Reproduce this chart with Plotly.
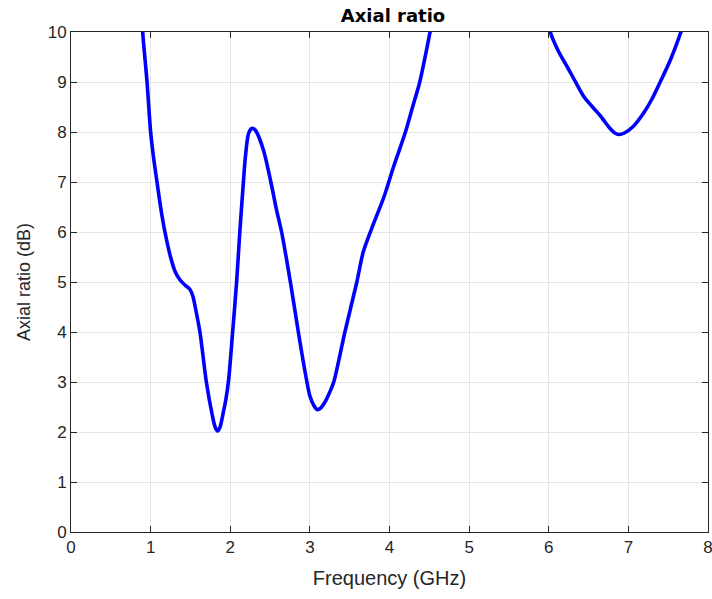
import plotly.graph_objects as go

# Axial ratio (dB) versus frequency (GHz); None splits the curve where it leaves the 0-10 dB window
freq_ghz = [
    0.87, 0.90, 0.955, 1.00, 1.04, 1.08, 1.13, 1.18, 1.25, 1.31, 1.37, 1.43, 1.49, 1.53, 1.56,
    1.62, 1.70, 1.77, 1.81, 1.84, 1.87, 1.91, 1.945, 1.98, 2.03, 2.08, 2.12, 2.165, 2.19,
    2.23, 2.27, 2.30, 2.33, 2.42, 2.51, 2.58, 2.645, 2.755, 2.855, 2.94, 3.00, 3.05,
    3.09, 3.13, 3.19, 3.245, 3.30, 3.44, 3.59, 3.67, 3.80, 3.93, 4.05, 4.20, 4.29, 4.38, 4.51, 4.56,
    None,
    5.98, 6.02, 6.12, 6.23, 6.33, 6.44, 6.55, 6.65, 6.77, 6.83, 6.88, 6.95, 7.06, 7.20,
    7.30, 7.40, 7.53, 7.66, 7.70,
]
axial_ratio_db = [
    10.8, 10.0, 9.0, 8.0, 7.45, 7.0, 6.45, 6.0, 5.5, 5.2, 5.04, 4.94, 4.86, 4.72, 4.5,
    3.99, 3.0, 2.37, 2.1, 2.02, 2.09, 2.37, 2.65, 3.05, 4.0, 5.0, 6.0, 7.0, 7.5,
    7.97, 8.07, 8.06, 8.0, 7.62, 7.0, 6.45, 6.0, 5.0, 4.0, 3.2, 2.72, 2.53,
    2.45, 2.47, 2.6, 2.78, 3.0, 4.0, 5.0, 5.6, 6.17, 6.7, 7.3, 8.0, 8.5, 9.0, 10.0, 10.4,
    None,
    10.5, 10.0, 9.62, 9.31, 9.02, 8.71, 8.5, 8.32, 8.07, 7.98, 7.95, 7.98, 8.11, 8.4,
    8.67, 9.0, 9.45, 10.0, 10.2,
]

x_ticks = [0, 1, 2, 3, 4, 5, 6, 7, 8]
y_ticks = [0, 1, 2, 3, 4, 5, 6, 7, 8, 9, 10]

FONT = "Liberation Sans, Arial, sans-serif"
INK = "#262626"

fig = go.Figure()
fig.add_trace(go.Scatter(
    x=freq_ghz, y=axial_ratio_db, mode="lines",
    line=dict(color="#0000FF", width=3.6, shape="spline", smoothing=0.8),
    connectgaps=False, showlegend=False,
))

axis_common = dict(
    showline=True, linecolor=INK, linewidth=1, mirror="ticks",
    ticks="inside", ticklen=6, tickcolor=INK,
    showgrid=True, gridcolor="#E6E6E6", gridwidth=1, zeroline=False,
    tickfont=dict(family=FONT, size=17, color=INK),
)

fig.update_xaxes(
    range=[0, 8], tickvals=x_ticks, ticklabeloverflow="allow",
    title=dict(text="Frequency (GHz)", standoff=14,
               font=dict(family=FONT, size=20, color=INK)),
    **axis_common,
)
fig.update_yaxes(
    range=[0, 10], tickvals=y_ticks,
    title=dict(text="Axial ratio (dB)", standoff=12,
               font=dict(family=FONT, size=18, color=INK)),
    **axis_common,
)

fig.update_layout(
    width=712, height=599,
    margin=dict(l=71, r=4, t=32, b=67, autoexpand=False),
    paper_bgcolor="white", plot_bgcolor="white",
    title=dict(text="<b>Axial ratio</b>", x=0.552, xanchor="center", y=0.985, yanchor="top",
               font=dict(family="DejaVu Sans, sans-serif", size=18, color="black")),
)

fig.write_html("out.html")
